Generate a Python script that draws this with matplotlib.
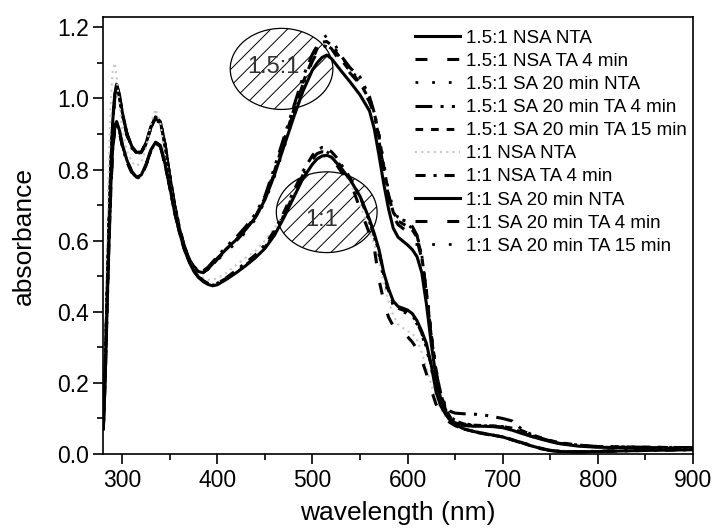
import matplotlib
matplotlib.use("Agg")
import matplotlib.pyplot as plt
from matplotlib.patches import Ellipse
from matplotlib.ticker import MultipleLocator

plt.rcParams['font.family'] = ['Liberation Sans', 'DejaVu Sans']
plt.rcParams['hatch.linewidth'] = 0.7

wavelength = [280, 282, 284, 286, 288, 290, 292, 294, 297, 300,
              305, 310, 315, 320, 325, 330, 335, 340, 345, 350,
              355, 360, 365, 370, 375, 380, 385, 390, 395, 400,
              410, 420, 430, 440, 450, 460, 470, 480, 490, 500,
              505, 510, 515, 520, 525, 530, 540, 550, 560, 565,
              570, 575, 580, 585, 590, 600, 605, 610, 615, 620,
              625, 630, 635, 640, 645, 650, 660, 670, 680, 690,
              700, 710, 720, 730, 740, 750, 760, 780, 800, 850, 900]

labels = ["1.5:1 NSA NTA", "1.5:1 NSA TA 4 min", "1.5:1 SA 20 min NTA",
          "1.5:1 SA 20 min TA 4 min", "1.5:1 SA 20 min TA 15 min",
          "1:1 NSA NTA", "1:1 NSA TA 4 min", "1:1 SA 20 min NTA",
          "1:1 SA 20 min TA 4 min", "1:1 SA 20 min TA 15 min"]

r15_nsa_nta = [0.08, 0.25, 0.45, 0.65, 0.82, 0.94, 1.01, 1.04, 1.01, 0.96,
               0.90, 0.865, 0.848, 0.85, 0.875, 0.92, 0.948, 0.935, 0.87, 0.78,
               0.70, 0.635, 0.585, 0.55, 0.527, 0.513, 0.51, 0.52, 0.535, 0.55,
               0.578, 0.603, 0.632, 0.665, 0.715, 0.785, 0.865, 0.945, 1.02, 1.08,
               1.10, 1.115, 1.122, 1.112, 1.095, 1.078, 1.045, 1.01, 0.965, 0.915,
               0.84, 0.76, 0.69, 0.635, 0.61, 0.588, 0.575, 0.555, 0.51, 0.42,
               0.31, 0.215, 0.155, 0.12, 0.098, 0.088, 0.08, 0.078, 0.078, 0.077,
               0.074, 0.067, 0.058, 0.05, 0.042, 0.035, 0.029, 0.022, 0.019, 0.017, 0.016]

r15_nsa_ta4 = [0.08, 0.24, 0.44, 0.64, 0.81, 0.93, 1.0, 1.035, 1.005, 0.955,
               0.895, 0.862, 0.845, 0.848, 0.872, 0.918, 0.945, 0.932, 0.868, 0.778,
               0.698, 0.633, 0.583, 0.548, 0.525, 0.512, 0.51, 0.518, 0.532, 0.548,
               0.575, 0.60, 0.63, 0.665, 0.718, 0.79, 0.875, 0.96, 1.04, 1.105,
               1.13, 1.145, 1.15, 1.14, 1.12, 1.10, 1.07, 1.04, 0.99, 0.955,
               0.89, 0.80, 0.72, 0.67, 0.645, 0.625, 0.615, 0.60, 0.55, 0.45,
               0.33, 0.23, 0.165, 0.125, 0.10, 0.09, 0.082, 0.08, 0.08, 0.078,
               0.076, 0.07, 0.06, 0.05, 0.042, 0.035, 0.03, 0.024, 0.02, 0.018, 0.017]

r15_sa20_nta = [0.08, 0.26, 0.46, 0.66, 0.82, 0.93, 1.0, 1.03, 1.0, 0.955,
                0.895, 0.86, 0.845, 0.85, 0.875, 0.915, 0.94, 0.93, 0.872, 0.785,
                0.705, 0.64, 0.588, 0.552, 0.528, 0.515, 0.512, 0.52, 0.532, 0.545,
                0.57, 0.595, 0.625, 0.66, 0.71, 0.78, 0.86, 0.95, 1.035, 1.11,
                1.145, 1.168, 1.177, 1.165, 1.145, 1.12, 1.08, 1.05, 1.0, 0.965,
                0.90, 0.82, 0.74, 0.69, 0.665, 0.645, 0.635, 0.615, 0.56, 0.46,
                0.34, 0.24, 0.17, 0.13, 0.105, 0.095, 0.085, 0.082, 0.08, 0.078,
                0.077, 0.072, 0.062, 0.052, 0.044, 0.037, 0.031, 0.025, 0.021, 0.019, 0.018]

r15_sa20_ta4 = [0.08, 0.25, 0.45, 0.65, 0.815, 0.935, 1.005, 1.035, 1.005, 0.955,
                0.898, 0.864, 0.847, 0.85, 0.874, 0.918, 0.946, 0.933, 0.87, 0.782,
                0.702, 0.637, 0.586, 0.551, 0.528, 0.515, 0.515, 0.525, 0.54, 0.555,
                0.585, 0.61, 0.64, 0.675, 0.725, 0.805, 0.89, 0.975, 1.06, 1.125,
                1.148, 1.15, 1.145, 1.14, 1.135, 1.12, 1.085, 1.06, 1.005, 0.96,
                0.88, 0.80, 0.725, 0.68, 0.66, 0.655, 0.64, 0.615, 0.555, 0.45,
                0.33, 0.23, 0.17, 0.135, 0.12, 0.115, 0.113, 0.112, 0.11, 0.105,
                0.10, 0.093, 0.07, 0.055, 0.045, 0.037, 0.031, 0.025, 0.021, 0.019, 0.018]

r15_sa20_ta15 = [0.08, 0.25, 0.45, 0.65, 0.82, 0.94, 1.008, 1.038, 1.008, 0.958,
                 0.898, 0.863, 0.846, 0.849, 0.873, 0.919, 0.947, 0.934, 0.869, 0.779,
                 0.699, 0.634, 0.584, 0.549, 0.526, 0.513, 0.511, 0.52, 0.535, 0.55,
                 0.578, 0.603, 0.633, 0.668, 0.72, 0.795, 0.88, 0.965, 1.045, 1.11,
                 1.14, 1.158, 1.16, 1.15, 1.13, 1.11, 1.075, 1.045, 0.995, 0.96,
                 0.895, 0.81, 0.73, 0.68, 0.655, 0.64, 0.63, 0.61, 0.555, 0.455,
                 0.335, 0.235, 0.168, 0.128, 0.103, 0.093, 0.084, 0.081, 0.08, 0.079,
                 0.077, 0.073, 0.066, 0.055, 0.046, 0.038, 0.032, 0.025, 0.021, 0.019, 0.018]

r11_nsa_nta = [0.07, 0.30, 0.60, 0.85, 1.0, 1.08, 1.10, 1.06, 0.98, 0.91,
               0.85, 0.82, 0.81, 0.82, 0.86, 0.93, 0.97, 0.93, 0.84, 0.76,
               0.69, 0.63, 0.58, 0.545, 0.52, 0.503, 0.495, 0.49, 0.49, 0.495,
               0.51, 0.532, 0.552, 0.572, 0.60, 0.635, 0.68, 0.73, 0.78, 0.815,
               0.828, 0.835, 0.836, 0.83, 0.815, 0.80, 0.76, 0.70, 0.63, 0.59,
               0.54, 0.48, 0.43, 0.39, 0.365, 0.345, 0.34, 0.32, 0.285, 0.24,
               0.195, 0.155, 0.125, 0.105, 0.092, 0.083, 0.072, 0.066, 0.06, 0.055,
               0.05, 0.043, 0.035, 0.026, 0.019, 0.013, 0.01, 0.008, 0.009, 0.011, 0.013]

r11_nsa_ta4 = [0.07, 0.22, 0.42, 0.60, 0.76, 0.865, 0.915, 0.93, 0.905, 0.865,
               0.82, 0.79, 0.775, 0.782, 0.812, 0.852, 0.874, 0.865, 0.812, 0.748,
               0.68, 0.625, 0.58, 0.545, 0.518, 0.5, 0.488, 0.48, 0.477, 0.48,
               0.497, 0.517, 0.538, 0.56, 0.588, 0.628, 0.68, 0.738, 0.795, 0.84,
               0.855, 0.862, 0.86, 0.85, 0.835, 0.815, 0.775, 0.725, 0.655, 0.615,
               0.57, 0.505, 0.46, 0.425, 0.41, 0.40, 0.39, 0.37, 0.34, 0.30,
               0.25, 0.19, 0.145, 0.115, 0.095, 0.084, 0.07, 0.063, 0.058, 0.053,
               0.048, 0.04, 0.032, 0.023, 0.016, 0.01, 0.007, 0.006, 0.007, 0.01, 0.012]

r11_sa20_nta = [0.07, 0.22, 0.42, 0.60, 0.76, 0.87, 0.92, 0.935, 0.91, 0.87,
                0.825, 0.795, 0.778, 0.785, 0.815, 0.855, 0.877, 0.868, 0.815, 0.75,
                0.68, 0.625, 0.578, 0.542, 0.515, 0.497, 0.485, 0.477, 0.473, 0.476,
                0.492, 0.51, 0.53, 0.552, 0.578, 0.615, 0.665, 0.72, 0.775, 0.815,
                0.83, 0.838, 0.84, 0.835, 0.82, 0.805, 0.77, 0.725, 0.66, 0.62,
                0.575, 0.51, 0.465, 0.43, 0.415, 0.405, 0.395, 0.375, 0.345, 0.31,
                0.25, 0.175, 0.135, 0.112, 0.095, 0.083, 0.07, 0.063, 0.058, 0.053,
                0.048, 0.04, 0.032, 0.023, 0.016, 0.01, 0.007, 0.006, 0.007, 0.01, 0.012]

r11_sa20_ta4 = [0.07, 0.21, 0.41, 0.59, 0.75, 0.86, 0.91, 0.928, 0.905, 0.868,
                0.823, 0.793, 0.777, 0.784, 0.814, 0.853, 0.875, 0.866, 0.813, 0.748,
                0.679, 0.624, 0.577, 0.541, 0.515, 0.498, 0.487, 0.48, 0.477, 0.48,
                0.495, 0.513, 0.532, 0.553, 0.58, 0.62, 0.672, 0.728, 0.785, 0.83,
                0.845, 0.85, 0.848, 0.835, 0.815, 0.795, 0.765, 0.69, 0.62, 0.58,
                0.49, 0.43, 0.385, 0.36, 0.345, 0.33, 0.315, 0.295, 0.265, 0.225,
                0.18, 0.14, 0.115, 0.098, 0.088, 0.08, 0.068, 0.062, 0.057, 0.052,
                0.047, 0.04, 0.031, 0.022, 0.015, 0.01, 0.007, 0.006, 0.008, 0.011, 0.013]

r11_sa20_ta15 = [0.07, 0.215, 0.415, 0.595, 0.755, 0.865, 0.918, 0.932, 0.908, 0.869,
                 0.824, 0.794, 0.777, 0.784, 0.814, 0.854, 0.876, 0.867, 0.814, 0.749,
                 0.68, 0.625, 0.578, 0.542, 0.516, 0.498, 0.486, 0.478, 0.475, 0.478,
                 0.494, 0.512, 0.533, 0.555, 0.582, 0.62, 0.672, 0.73, 0.785, 0.828,
                 0.843, 0.85, 0.85, 0.842, 0.826, 0.81, 0.772, 0.722, 0.652, 0.61,
                 0.56, 0.495, 0.45, 0.418, 0.404, 0.395, 0.385, 0.365, 0.335, 0.295,
                 0.24, 0.18, 0.138, 0.112, 0.094, 0.083, 0.07, 0.063, 0.058, 0.053,
                 0.048, 0.041, 0.033, 0.024, 0.017, 0.011, 0.008, 0.007, 0.008, 0.011, 0.013]

series = [r15_nsa_nta, r15_nsa_ta4, r15_sa20_nta, r15_sa20_ta4, r15_sa20_ta15,
          r11_nsa_nta, r11_nsa_ta4, r11_sa20_nta, r11_sa20_ta4, r11_sa20_ta15]

styles = [
    dict(color='black', lw=2.2, ls='-'),
    dict(color='black', lw=2.2, ls=(0, (3.9, 6.5))),
    dict(color='black', lw=2.0, ls=(0, (1.0, 5.0))),
    dict(color='black', lw=2.2, ls=(0, (5.5, 2.7, 1.0, 2.7, 1.0, 2.7))),
    dict(color='black', lw=2.2, ls=(0, (2.5, 2.6))),
    dict(color='#c8c8c8', lw=1.5, ls=(0, (1.0, 2.0))),
    dict(color='black', lw=2.2, ls=(0, (3.3, 2.6, 1.0, 2.6))),
    dict(color='black', lw=2.2, ls='-'),
    dict(color='black', lw=2.2, ls=(0, (3.9, 6.5))),
    dict(color='black', lw=2.0, ls=(0, (1.0, 5.0))),
]

fig = plt.figure(figsize=(7.15, 5.32), dpi=100)
ax = fig.add_axes([0.1445, 0.1466, 0.8243, 0.8208])

# hatched ellipses
e1 = Ellipse((467.5, 1.083), 108, 0.228, facecolor='none', edgecolor='black',
             lw=0.9, hatch='//', zorder=1)
e2 = Ellipse((515, 0.68), 106, 0.227, facecolor='none', edgecolor='black',
             lw=0.9, hatch='//', zorder=1)
ax.add_patch(e1)
ax.add_patch(e2)
ax.text(459, 1.087, "1.5:1", fontsize=17, color='#333333', ha='center', va='center', zorder=1)
ax.text(510, 0.659, "1:1", fontsize=17, color='#333333', ha='center', va='center', zorder=1)

for y, lab, st in zip(series, labels, styles):
    ax.plot(wavelength, y, label=lab, zorder=2, **st)

ax.set_xlim(280, 900)
ax.set_ylim(0, 1.228)
ax.xaxis.set_major_locator(MultipleLocator(100))
ax.xaxis.set_minor_locator(MultipleLocator(50))
ax.yaxis.set_major_locator(MultipleLocator(0.2))
ax.yaxis.set_minor_locator(MultipleLocator(0.1))
ax.yaxis.set_major_formatter(matplotlib.ticker.FormatStrFormatter('%.1f'))
ax.tick_params(which='both', direction='out', top=False, right=False, width=1.2)
ax.tick_params(which='major', length=7, labelsize=16.5)
ax.tick_params(which='minor', length=4)
for sp in ax.spines.values():
    sp.set_linewidth(1.2)

ax.set_xlabel("wavelength (nm)", fontsize=19, labelpad=7)
ax.set_ylabel("absorbance", fontsize=19, labelpad=15)

leg = ax.legend(loc='upper left', bbox_to_anchor=(0.5285, 0.972), frameon=False,
                fontsize=13.5, handlelength=2.4, handletextpad=0.35,
                labelspacing=0.32, borderpad=0, borderaxespad=0)

fig.savefig("out.png", dpi=100)
